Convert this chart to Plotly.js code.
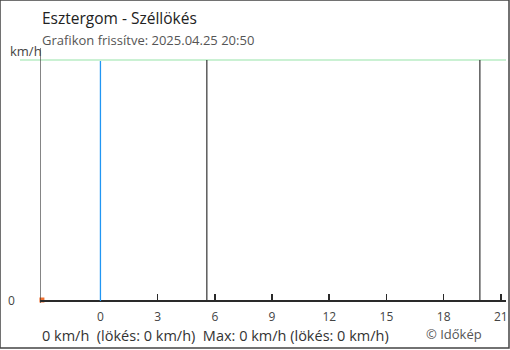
<!DOCTYPE html>
<html><head><meta charset="utf-8">
<script src="https://cdn.plot.ly/plotly-3.0.1.min.js"></script>
<style>html,body{margin:0;padding:0;background:#fff}#c{width:510px;height:350px}</style>
</head><body><div id="c"></div>
<script>
// hours relative to midnight
var timeHours = [-3.07];
var gustValues = [0];
var xTicks = [0, 3, 6, 9, 12, 15, 18, 21];
var xTickLabels = ['0', '3', '6', '9', '12', '15', '18', '21'];
var xRange = [-3.17, 21.27];
var yRange = [0, 10];
var midnight = [0];
var sunLines = [-3.17, 5.58, 19.9];
var titleText = 'Esztergom - Széllökés';
var subtitleText = 'Grafikon frissítve: 2025.04.25 20:50';
var footerText = '0 km/h  (lökés: 0 km/h)  Max: 0 km/h (lökés: 0 km/h)';
var copyrightText = '© Időkép';
var yUnit = 'km/h';

var font = '"Open Sans", "Noto Sans", sans-serif';
var shapes = [];
// top green line
shapes.push({type:'line', layer:'above', xref:'paper', yref:'paper', x0:-20/466, x1:1, y0:1, y1:1, line:{color:'#b8ecc4', width:1.5}});
sunLines.forEach(function(h, i){
  shapes.push({type:'line', layer:'above', xref:'x', yref:'paper', x0:h, x1:h, y0: i===0 ? -3/240 : 0, y1: i===0 ? 1+12/240 : 1, line:{color:'#333', width:1.2}});
});
midnight.forEach(function(h){
  shapes.push({type:'line', layer:'above', xref:'x', yref:'paper', x0:h, x1:h, y0:-1/240, y1:1-1/240, line:{color:'#2196f3', width:1.3}});
});
// outer border
shapes.push({type:'rect', layer:'above', xref:'paper', yref:'paper', x0:-40/466, x1:(509-40)/466, y0:1+60/240, y1:-(348-300)/240, line:{color:'#444', width:1.5}});

var layout = {
  width:510, height:350,
  margin:{l:40, r:4, t:60, b:50},
  paper_bgcolor:'#fff', plot_bgcolor:'#fff',
  showlegend:false,
  xaxis:{range:xRange, tickvals:xTicks, ticktext:xTickLabels, ticks:'',
    showline:true, linecolor:'#2a2a2a', linewidth:1.5, ticklabelstandoff:5,
    showgrid:false, zeroline:false, tickfont:{family:font, size:12, color:'#444'}, fixedrange:true},
  // second axis used only to draw upward tick marks on the baseline
  xaxis2:{range:xRange, overlaying:'x', side:'top', anchor:'free', position:0, tickvals:xTicks, ticks:'outside', ticklen:6, tickwidth:1.6, tickcolor:'#2a2a2a',
    showticklabels:false, showline:false, showgrid:false, zeroline:false, fixedrange:true},
  yaxis:{range:yRange, showticklabels:false, showgrid:false, zeroline:false, showline:false, ticks:'', fixedrange:true},
  shapes:shapes,
  annotations:[
    {xref:'paper', yref:'paper', x:0, y:1+42/240, xanchor:'left', yanchor:'middle', text:titleText, showarrow:false, font:{family:font, size:15.5, color:'#222'}},
    {xref:'paper', yref:'paper', x:0, y:1+20/240, xanchor:'left', yanchor:'middle', text:subtitleText, showarrow:false, font:{family:font, size:13, color:'#555'}},
    {xref:'paper', yref:'paper', x:4/466, y:1+9/240, xanchor:'right', yanchor:'middle', text:yUnit, showarrow:false, font:{family:font, size:13, color:'#444'}},
    {xref:'paper', yref:'paper', x:-34/466, y:0, xanchor:'left', yanchor:'middle', text:'0', showarrow:false, font:{family:font, size:12, color:'#444'}},
    {xref:'paper', yref:'paper', x:0, y:-35/240, xanchor:'left', yanchor:'middle', text:footerText, showarrow:false, font:{family:font, size:14.5, color:'#333'}},
    {xref:'paper', yref:'paper', x:(424-40)/466, y:-33.5/240, xanchor:'left', yanchor:'middle', text:copyrightText, showarrow:false, font:{family:font, size:13, color:'#555'}}
  ]
};
var data = [
  {x:timeHours, y:gustValues, type:'scatter', mode:'markers', marker:{color:'#f07030', size:5, symbol:'square'}, cliponaxis:false, hoverinfo:'skip'},
  {x:[xRange[0]], y:[null], xaxis:'x2', type:'scatter', mode:'markers', hoverinfo:'skip'}
];
Plotly.newPlot('c', data, layout, {staticPlot:true, displayModeBar:false});
</script></body></html>
